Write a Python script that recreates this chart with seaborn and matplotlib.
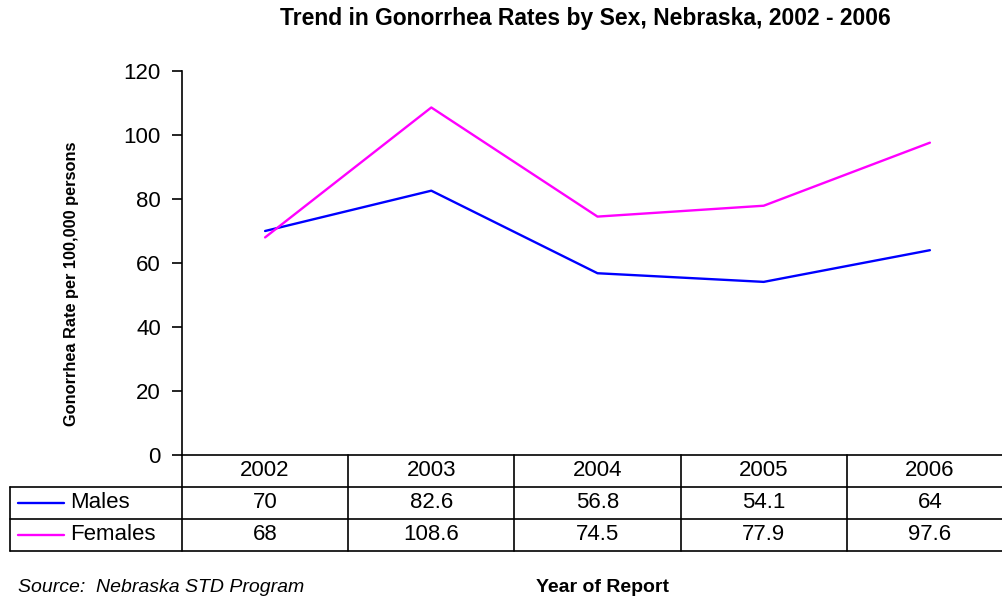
import numpy as np
import pandas as pd
import matplotlib
matplotlib.use("Agg")
import matplotlib.pyplot as plt
import seaborn as sns

years = [2002, 2003, 2004, 2005, 2006]
males = [70, 82.6, 56.8, 54.1, 64]
females = [68, 108.6, 74.5, 77.9, 97.6]
series_names = ["Males", "Females"]
colors = {"Males": "#0000FF", "Females": "#FF00FF"}
yticks = [0, 20, 40, 60, 80, 100, 120]
male_labels = ["70", "82.6", "56.8", "54.1", "64"]
female_labels = ["68", "108.6", "74.5", "77.9", "97.6"]

df = pd.DataFrame({
    "year": years * 2,
    "rate": males + females,
    "sex": ["Males"] * len(years) + ["Females"] * len(years),
})

sns.set_style("white")
plt.rcParams["font.family"] = ["Liberation Sans", "DejaVu Sans"]
plt.rcParams["text.color"] = "black"
plt.rcParams["ytick.color"] = "black"

W, H = 1003, 599
fig = plt.figure(figsize=(W / 100, H / 100), dpi=100)
left_px, right_px, top_px, bot_px = 182, 1013, 71, 455
ax = fig.add_axes([left_px / W, (H - bot_px) / H, (right_px - left_px) / W, (bot_px - top_px) / H])

sns.lineplot(data=df, x="year", y="rate", hue="sex", palette=colors, ax=ax,
             linewidth=1.7, legend=False, hue_order=series_names)

ax.set_xlim(years[0] - 0.5, years[-1] + 0.5)
ax.set_ylim(0, 120)
ax.set_yticks(yticks)
ax.set_xticks([])
ax.set_xlabel("")
ax.set_ylabel("")
for s in ["top", "right"]:
    ax.spines[s].set_visible(False)
ax.spines["left"].set_color("black")
ax.spines["left"].set_linewidth(1.2)
ax.spines["bottom"].set_color("black")
ax.spines["bottom"].set_linewidth(1.2)
ax.tick_params(axis="y", direction="out", length=7.2, width=1.2, pad=8, labelsize=16,
               colors="black", labelcolor="black")
ax.tick_params(axis="y", left=True)

# Table below the axis
axh = bot_px - top_px
row_h = 32 / axh
xt = ax.get_xaxis_transform()
tA = ax.transAxes
lw = 1.2
def fx(px):
    return (px - left_px) / (right_px - left_px)

for r in [1, 2, 3]:
    ax.plot([fx(10), 1.0], [-r * row_h, -r * row_h], transform=tA, color="black", lw=lw, clip_on=False)
ax.plot([fx(10), fx(10)], [-row_h, -3 * row_h], transform=tA, color="black", lw=lw, clip_on=False)
for i in range(len(years) + 1):
    xv = years[0] - 0.5 + i
    ax.plot([xv, xv], [0, -3 * row_h], transform=xt, color="black", lw=lw, clip_on=False)

fs = 16
for i, yv in enumerate(years):
    ax.text(yv, -0.5 * row_h, str(yv), transform=xt, ha="center", va="center", fontsize=fs, color="black")
    ax.text(yv, -1.5 * row_h, male_labels[i], transform=xt, ha="center", va="center", fontsize=fs, color="black")
    ax.text(yv, -2.5 * row_h, female_labels[i], transform=xt, ha="center", va="center", fontsize=fs, color="black")

for k, name in enumerate(series_names):
    yy = -(1.5 + k) * row_h
    ax.plot([fx(18), fx(64)], [yy, yy], transform=tA, color=colors[name], lw=1.7, clip_on=False)
    ax.text(fx(70), yy, name, transform=tA, ha="left", va="center", fontsize=fs, color="black")

fig.text(585 / W, 1 - 19 / H, "Trend in Gonorrhea Rates by Sex, Nebraska, 2002 - 2006",
         ha="center", va="center", fontsize=16.5, fontweight="bold", color="black")
fig.text(72 / W, 1 - 284 / H, "Gonorrhea Rate per 100,000 persons", rotation=90,
         ha="center", va="center", fontsize=11.8, fontweight="bold", color="black")
fig.text(18 / W, 1 - 587 / H, "Source:  Nebraska STD Program", ha="left", va="center",
         fontsize=14, fontstyle="italic", color="black")
fig.text(603 / W, 1 - 587 / H, "Year of Report", ha="center", va="center",
         fontsize=14, fontweight="bold", color="black")

fig.savefig("out.png", dpi=100)
